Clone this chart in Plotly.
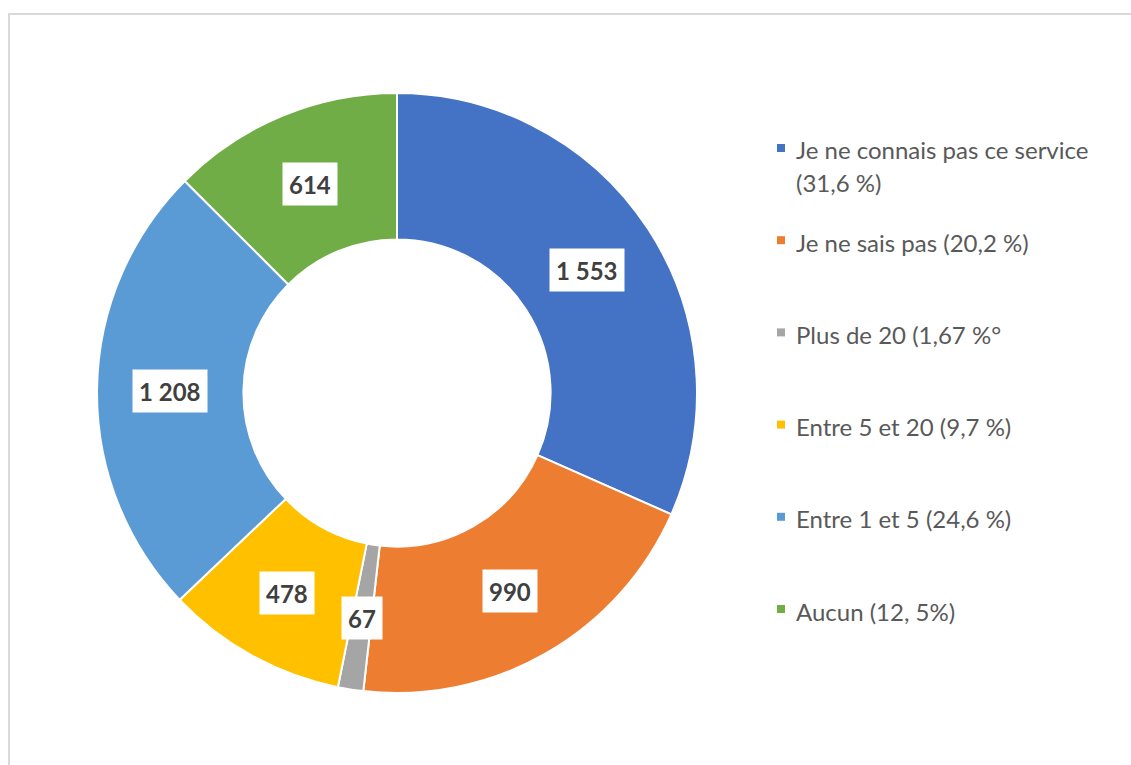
import math
import plotly.graph_objects as go

# Survey answers, in drawing order (clockwise from 12 o'clock)
categories = [
    "Je ne connais pas ce service",
    "Je ne sais pas",
    "Plus de 20",
    "Entre 5 et 20",
    "Entre 1 et 5",
    "Aucun",
]
counts = [1553, 990, 67, 478, 1208, 614]
count_labels = ["1 553", "990", "67", "478", "1 208", "614"]
legend_labels = [
    "Je ne connais pas ce service<br>(31,6 %)",
    "Je ne sais pas (20,2 %)",
    "Plus de 20 (1,67 %°",
    "Entre 5 et 20 (9,7 %)",
    "Entre 1 et 5 (24,6 %)",
    "Aucun (12, 5%)",
]
colors = ["#4472C4", "#ED7D31", "#A5A5A5", "#FFC000", "#5B9BD5", "#70AD47"]

W, H = 1131, 765
# donut placement (pixels)
cx, cy, R = 397, 393, 300
hole = 0.512

def px_x(x):
    return x / W

def px_y(y):
    return 1 - y / H

fig = go.Figure()
fig.add_trace(go.Pie(
    labels=categories,
    values=counts,
    sort=False,
    direction="clockwise",
    rotation=0,
    hole=hole,
    marker=dict(colors=colors, line=dict(color="white", width=2)),
    textinfo="none",
    hoverinfo="label+value",
    showlegend=False,
    domain=dict(x=[px_x(cx - R), px_x(cx + R)], y=[px_y(cy + R), px_y(cy - R)]),
))

annotations = []
shapes = []

# value labels in white boxes, centred on the middle of each ring segment
total = sum(counts)
r_mid = R * (1 + hole) / 2
cum = 0
for v, lab in zip(counts, count_labels):
    frac = (cum + v / 2) / total
    ang = 2 * math.pi * frac
    x = cx + r_mid * math.sin(ang)
    y = cy - r_mid * math.cos(ang)
    annotations.append(dict(
        x=px_x(x), y=px_y(y + 1), xref="paper", yref="paper",
        text=f"<b>{lab}</b>", showarrow=False,
        font=dict(family="Lato, Open Sans, sans-serif", size=24, color="#404040"),
        bgcolor="white", borderpad=6, height=30,
        xanchor="center", yanchor="middle",
    ))
    cum += v

# legend on the right
leg_x0, leg_y0, leg_step, line_gap = 777, 148, 92.2, 32
for i, (lab, col) in enumerate(zip(legend_labels, colors)):
    yc = leg_y0 + i * leg_step
    shapes.append(dict(
        type="rect", xref="paper", yref="paper",
        x0=px_x(leg_x0), x1=px_x(leg_x0 + 8),
        y0=px_y(yc + 4), y1=px_y(yc - 4),
        fillcolor=col, line=dict(width=0),
    ))
    for j, line in enumerate(lab.split("<br>")):
        annotations.append(dict(
            x=px_x(leg_x0 + 17), y=px_y(yc + 2 + j * line_gap),
            xref="paper", yref="paper", text=line, showarrow=False,
            font=dict(family="Lato, Open Sans, sans-serif", size=24, color="#595959"),
            xanchor="left", yanchor="middle",
        ))

# chart frame
shapes.append(dict(
    type="rect", xref="paper", yref="paper",
    x0=px_x(9), x1=px_x(W + 20), y0=px_y(H + 20), y1=px_y(14),
    line=dict(color="#D9D9D9", width=2), fillcolor="rgba(0,0,0,0)",
))

fig.update_layout(
    width=W, height=H,
    margin=dict(l=0, r=0, t=0, b=0),
    paper_bgcolor="white", plot_bgcolor="white",
    annotations=annotations, shapes=shapes,
)

fig.write_html("out.html")
